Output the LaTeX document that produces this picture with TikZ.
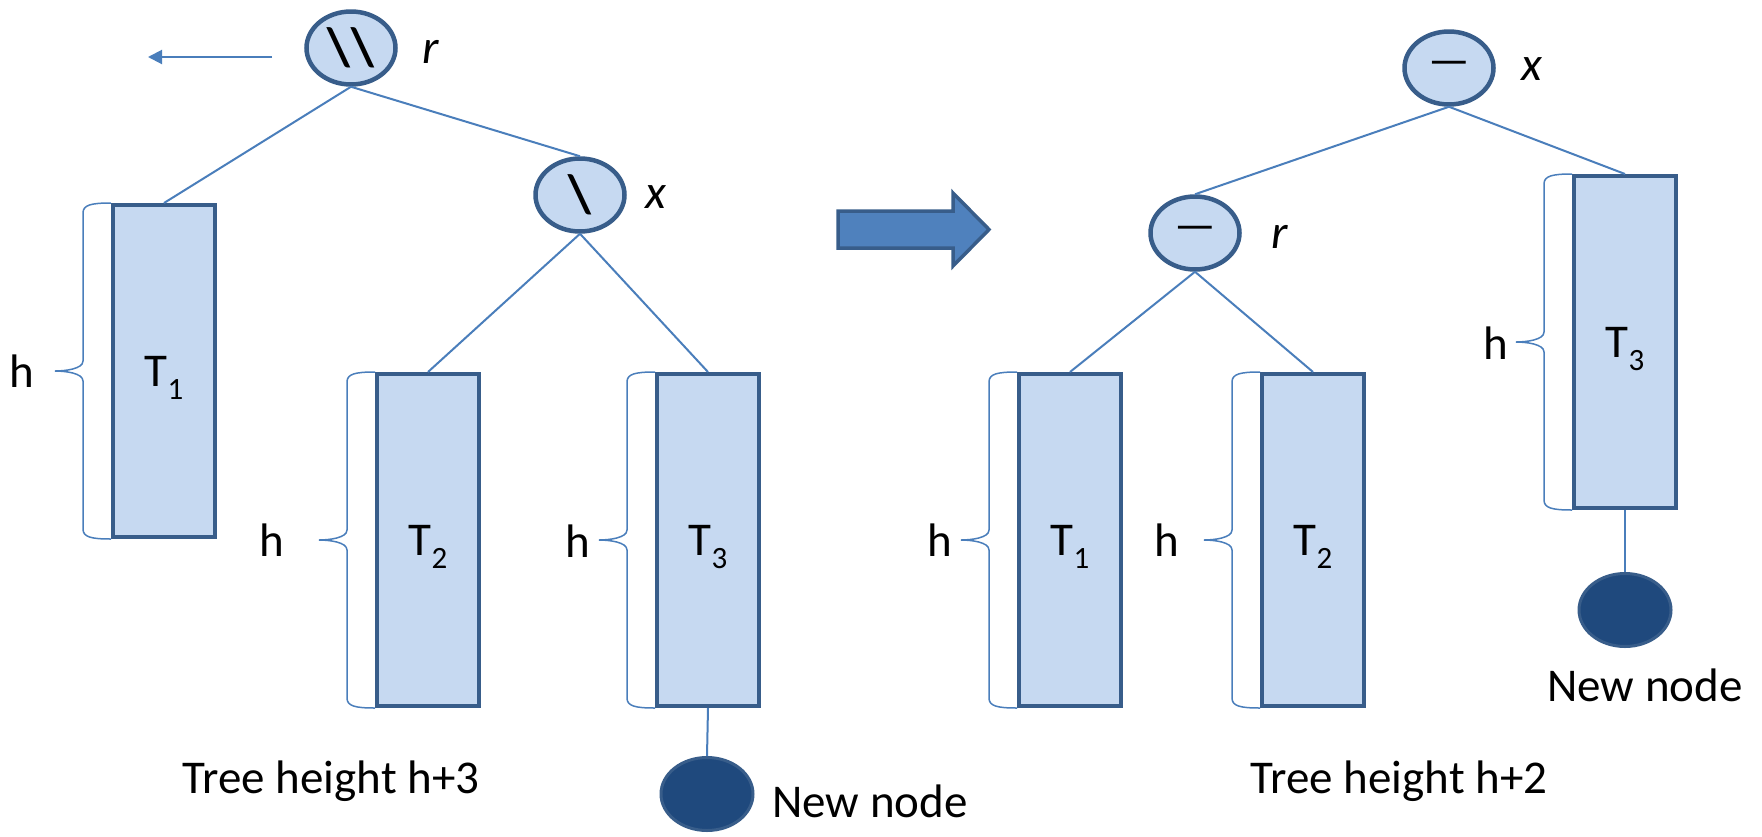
\documentclass[tikz,border=0pt]{standalone}
\usepackage{fontspec}
\setmainfont{Carlito}
\usetikzlibrary{calc,arrows.meta,shapes.geometric}

\definecolor{boxfill}{HTML}{C6D9F1}
\definecolor{boxline}{HTML}{385D8A}
\definecolor{edgeblue}{HTML}{4A7EBB}
\definecolor{arrowblue}{HTML}{4F81BD}
\definecolor{newfill}{HTML}{1F497D}

% curly brace on the left side of a subtree box
\newcommand{\hbrace}[1]{%
  \draw[hbr] (#1.north west) .. controls +(-20,0) and +(0,-8) .. ($(#1.north west)+(-28,10)$)
    -- ($(#1.west)+(-28,-10)$) .. controls +(0,8) and +(10,0) .. ($(#1.west)+(-56,0)$)
    .. controls +(10,0) and +(0,-8) .. ($(#1.west)+(-28,10)$)
    -- ($(#1.south west)+(-28,-10)$) .. controls +(0,8) and +(-20,0) .. (#1.south west);}
\newcommand{\tsub}[2]{#1\raisebox{-13pt}[0pt][0pt]{\fontsize{31}{31}\selectfont #2}}

\begin{document}
\begin{tikzpicture}[x=1pt,y=-1pt,
    every node/.style={font=\fontsize{47}{56}\selectfont},
    subtree/.style={draw=boxline,fill=boxfill,line width=4pt,minimum width=102pt,minimum height=332pt,inner sep=0pt},
    knot/.style={ellipse,draw=boxline,fill=boxfill,line width=4.5pt,minimum width=89pt,minimum height=73pt,inner sep=0pt},
    newknot/.style={ellipse,draw=boxline,fill=newfill,line width=3pt,minimum width=92pt,minimum height=73pt,inner sep=0pt},
    edge/.style={draw=edgeblue,line width=2pt},
    hbr/.style={draw=edgeblue,line width=1.5pt},
    sym/.style={font=\fontsize{54}{60}\selectfont\bfseries},
    bar/.style={font=\fontsize{46}{50}\selectfont},
    tag/.style={font=\fontsize{48}{56}\selectfont\itshape}]
    \useasboundingbox (0,0) rectangle (1762,836);

    % before the rotation
    \node[knot,sym] (lroot) at (351,48) {\textbackslash\textbackslash};
    \node[tag] (lrootlbl) at (431,52) {r};
    \node[knot,sym] (lx) at (580,195) {\textbackslash};
    \node[tag] (lxlbl) at (656,197) {x};
    \node[subtree] (lt1) at (164,371) {\tsub{T}{1}};
    \node[subtree] (lt2) at (428,540) {\tsub{T}{2}};
    \node[subtree] (lt3) at (708,540) {\tsub{T}{3}};
    \node[newknot] (lnew) at (707,794) {};
    \node (lnewlbl) at (870,801) {New node};
    \node (lheight) at (331,781) {Tree height h+3};
    \node (lh1) at (22,371) {h};
    \node (lh2) at (272,540) {h};
    \node (lh3) at (578,541) {h};
    \hbrace{lt1} \hbrace{lt2} \hbrace{lt3}
    \draw[edge] (lroot.south) -- (lt1.north);
    \draw[edge] (lroot.south) -- (lx.north);
    \draw[edge] (lx.south) -- (lt2.north);
    \draw[edge] (lx.south) -- (lt3.north);
    \draw[edge] (lt3.south) -- (lnew.north);
    \coordinate (rotfrom) at (272,57);
    \coordinate (rotto) at (148,57);
    \draw[edge,-{Triangle[length=14pt,width=14pt]}] (rotfrom) -- (rotto);

    % big arrow
    \draw[draw=boxline,fill=arrowblue,line width=3.5pt] (838,211) -- (953,211) -- (953,193) -- (989,229.5)
        -- (953,266) -- (953,248) -- (838,248) -- cycle;

    % after the rotation
    \node[knot,bar] (rx) at (1449,68) {---};
    \node[tag] (rxlbl) at (1532,69) {x};
    \node[knot,bar] (rr) at (1195,233) {---};
    \node[tag] (rrlbl) at (1280,237) {r};
    \node[subtree] (rt1) at (1070,540) {\tsub{T}{1}};
    \node[subtree] (rt2) at (1313,540) {\tsub{T}{2}};
    \node[subtree] (rt3) at (1625,342) {\tsub{T}{3}};
    \node[newknot] (rnew) at (1625,610) {};
    \node (rnewlbl) at (1645,685) {New node};
    \node (rheight) at (1399,781) {Tree height h+2};
    \node (rh1) at (940,540) {h};
    \node (rh2) at (1167,540) {h};
    \node (rh3) at (1496,343) {h};
    \hbrace{rt1} \hbrace{rt2} \hbrace{rt3}
    \draw[edge] (rx.south) -- (rr.north);
    \draw[edge] (rx.south) -- (rt3.north);
    \draw[edge] (rr.south) -- (rt1.north);
    \draw[edge] (rr.south) -- (rt2.north);
    \draw[edge] (rt3.south) -- (rnew.north);
\end{tikzpicture}
\end{document}
